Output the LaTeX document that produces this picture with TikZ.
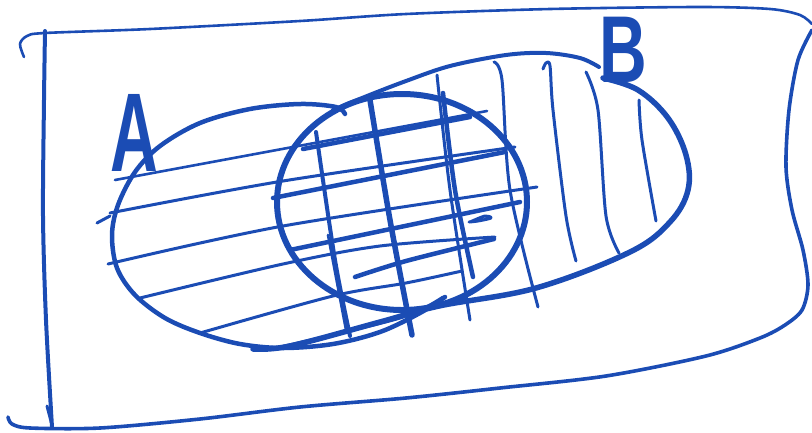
\documentclass[tikz,border=0pt]{standalone}
\usepackage{fontspec}
\setmainfont{Liberation Sans}
\definecolor{ink}{RGB}{27,76,180}
\begin{document}
\begin{tikzpicture}[x=1pt,y=-1pt,line cap=round,line join=round,
  sk/.style={draw=ink,line width=#1}, sk/.default=3pt,
  lbl/.style={text=ink,inner sep=0pt,font=\fontsize{100}{100}\selectfont\bfseries}]
\useasboundingbox (0,0) rectangle (812,432);
% frame
\draw[sk=2.6pt] plot[smooth,tension=0.5] coordinates {(24,57)(20,44)(27,36)(45,33)(150,29)(300,21)(406,14)(550,9)(700,7)(770,9)(800,15)(812,24)};
\draw[sk=3.6pt] plot[smooth,tension=0.5] coordinates {(812,30)(798,60)(789,110)(786,167)(792,210)(803,250)(808,285)(802,310)(785,325)(760,338)(706,356)(606,376)(500,388)(406,398)(300,407)(200,419)(100,428)(30,428)(12,424)(8,417)};
\draw[sk=4pt] plot[smooth,tension=0.5] coordinates {(45,31)(44,100)(43,216)(46,320)(52,427)};
\draw[sk=3pt] (47,406) -- (52,425);
% ellipse A
\draw[sk=4.5pt] plot[smooth,tension=0.55] coordinates {(345,114)(336,107)(300,104)(250,109)(200,123)(160,146)(135,172)(118,205)(112,235)(117,268)(135,295)(165,318)(200,333)(240,344)(283,348)(333,344)(380,332)(420,313)(445,297)};
\draw[sk=3pt] (97,223) -- (110,216);
% ellipse B
\draw[sk=4pt] plot[smooth,tension=0.55] coordinates {(333,110)(367,96)(406,81)(450,66)(506,55)(546,53)(580,58)(599,67)};
\draw[sk=5.5pt] plot[smooth,tension=0.6] coordinates {(603,78)(638,90)(668,118)(686,155)(688,190)(670,222)(630,252)(536,288)(439,306)(380,322)(290,346)(253,349)};
% inner ellipse
\draw[sk=6pt] (402,202) ellipse [x radius=125pt, y radius=108pt];
% horizontal hatching
\draw[sk=2.6pt] (115,180) -- (487,111);
\draw[sk=4.5pt] (303,149) -- (470,117);
\draw[sk=3pt] plot[smooth] coordinates {(110,213)(283,181)(515,147)};
\draw[sk=4.5pt] (273,198) -- (505,152);
\draw[sk=3pt] plot[smooth] coordinates {(108,264)(283,226)(537,187)};
\draw[sk=4.5pt] (290,250) -- (520,202);
\draw[sk=3pt] plot[smooth] coordinates {(140,298)(283,264)(380,246)(495,237)};
\draw[sk=4.5pt] plot[smooth] coordinates {(355,277)(406,261)(494,239)};
\draw[sk=3pt] plot[smooth] coordinates {(200,333)(333,296)(406,283)(462,271)};
\draw[sk=3pt] plot[smooth] coordinates {(280,347)(400,318)(443,297)};
\draw[sk=3pt] plot[smooth] coordinates {(470,222)(485,216)(491,218)(478,221)(469,222)};
% vertical hatching
\draw[sk=4pt] plot[smooth] coordinates {(316,132)(335,260)(350,336)};
\draw[sk=2.6pt] (328,235) -- (346,330);
\draw[sk=5.5pt] plot[smooth] coordinates {(370,100)(390,220)(412,335)};
\draw[sk=3pt] plot[smooth] coordinates {(437,75)(450,190)(470,320)};
\draw[sk=4.5pt] plot[smooth] coordinates {(443,93)(455,190)(473,277)};
\draw[sk=3pt] plot[smooth] coordinates {(494,62)(502,80)(510,190)(538,307)};
\draw[sk=3pt] plot[smooth] coordinates {(543,69)(546,63)(550,66)(553,110)(566,216)(576,261)};
\draw[sk=3pt] plot[smooth] coordinates {(586,72)(598,110)(606,216)(619,253)};
\draw[sk=3pt] plot[smooth] coordinates {(639,100)(642,140)(656,221)};
% labels
\node[lbl] (labelA) at (134,133) {\scalebox{0.66}[1.12]{A}};
\node[lbl] (labelB) at (623,50) {\scalebox{0.66}[0.95]{B}};
\end{tikzpicture}
\end{document}
